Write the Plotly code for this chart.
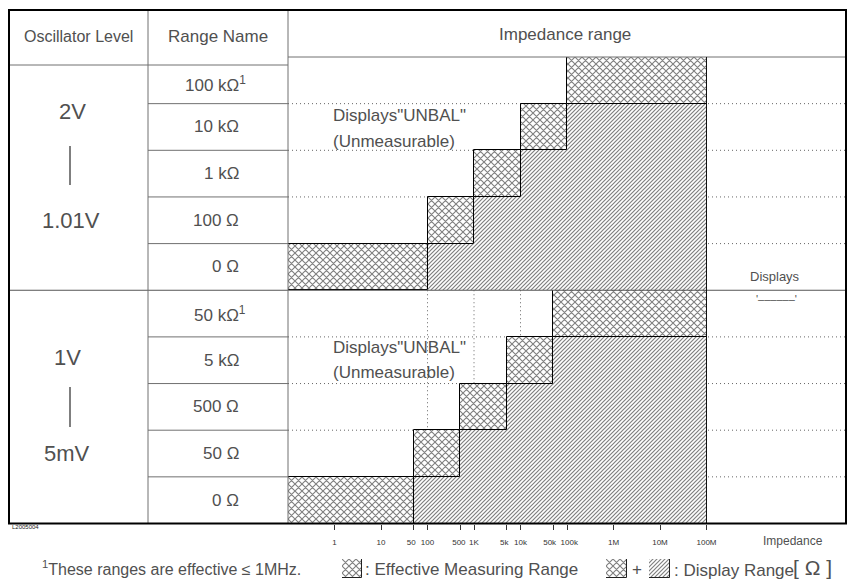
import math
import plotly.graph_objects as go

# ---------------- data ----------------
LEVELS_HIGH = ["2V", "1.01V"]
LEVELS_LOW = ["1V", "5mV"]
RANGES_HIGH = ["100 kΩ", "10 kΩ", "1 kΩ", "100 Ω", "0 Ω"]
RANGES_LOW = ["50 kΩ", "5 kΩ", "500 Ω", "50 Ω", "0 Ω"]
FOOTNOTED = ["100 kΩ", "50 kΩ"]
AXIS_MIN, AXIS_MAX = 0.1, 1e11
DISPLAY_MAX = 1e8
EFF_START_HIGH = [1e5, 1e4, 1e3, 1e2, AXIS_MIN]
EFF_END_HIGH = [1e8, 1e5, 1e4, 1e3, 1e2]
EFF_START_LOW = [5e4, 5e3, 500, 50, AXIS_MIN]
EFF_END_LOW = [1e8, 5e4, 5e3, 500, 50]
TICK_VALS = [1, 10, 50, 100, 500, 1e3, 5e3, 1e4, 5e4, 1e5, 1e6, 1e7, 1e8]
NB = "\u00a0"
TICK_TEXT = ["1", "10", "50" + NB * 2, "100", "500" + NB, "1K", "5k" + NB * 2, "10k",
             "50k" + NB * 3, NB * 2 + "100k", "1M", "10M", "100M"]
LEGEND_SWATCHES = ["x", "x", "/"]

# ---------------- layout constants (page pixels) ----------------
OFF = 8                      # default page body margin
W, H = 856 - OFF, 580 - OFF  # figure size
L, R, T, B = 9, 846, 10, 523.5
PLOT_TOP = 57
COL1, COL2 = 148, 288
HEADER_LEFT_BOTTOM = 65
FONT = "Liberation Sans"
TXT = "#505050"
GRID = "#707070"


def fx(p):
    return (p - OFF) / W


def fy(p):
    return 1 - (p - OFF) / H


ranges = RANGES_HIGH + RANGES_LOW
eff_start = EFF_START_HIGH + EFF_START_LOW
eff_end = EFF_END_HIGH + EFF_END_LOW
rows = list(range(len(ranges)))
n_high = len(RANGES_HIGH)

CROSS = dict(shape="x", size=7 / math.sqrt(2), solidity=0.4, fgcolor="#000", bgcolor="white")
HATCH = dict(shape="/", size=4 / math.sqrt(2), solidity=0.42, fgcolor="#000", bgcolor="white")

fig = go.Figure()

# effective measuring range (cross hatched)
fig.add_trace(go.Bar(
    orientation="h", y=rows, base=eff_start,
    x=[e - s for s, e in zip(eff_start, eff_end)], width=1,
    marker=dict(color="white", line=dict(color="black", width=1), pattern=CROSS),
    showlegend=False, hoverinfo="skip"))

# display-only range (hatched)
disp_rows = [r for r in rows if eff_end[r] < DISPLAY_MAX]
fig.add_trace(go.Bar(
    orientation="h", y=disp_rows, base=[eff_end[r] for r in disp_rows],
    x=[DISPLAY_MAX - eff_end[r] for r in disp_rows], width=1,
    marker=dict(color="white", line=dict(color="black", width=0), pattern=HATCH),
    showlegend=False, hoverinfo="skip"))

# legend swatches on tiny axes
sw_pos = [(342, 362), (606, 627), (649, 670)]
for i, (shape, (a, b)) in enumerate(zip(LEGEND_SWATCHES, sw_pos), start=2):
    pat = CROSS if shape == "x" else HATCH
    fig.add_trace(go.Bar(
        orientation="h", y=[0], x=[1], base=[0], width=1,
        xaxis=f"x{i}", yaxis=f"y{i}",
        marker=dict(color="white", line=dict(color="#222", width=1), pattern=pat),
        showlegend=False, hoverinfo="skip"))
    fig.update_layout(**{
        f"xaxis{i}": dict(domain=[fx(a), fx(b)], range=[0, 1], visible=False, anchor=f"y{i}", fixedrange=True),
        f"yaxis{i}": dict(domain=[fy(578), fy(559)], range=[-0.5, 0.5], visible=False, anchor=f"x{i}", fixedrange=True),
    })

fig.update_layout(
    width=W, height=H, margin=dict(l=0, r=0, t=0, b=0),
    paper_bgcolor="white", plot_bgcolor="white",
    barmode="overlay", bargap=0,
    xaxis=dict(type="log", range=[math.log10(AXIS_MIN), math.log10(AXIS_MAX)],
               domain=[fx(COL2), fx(R)], showgrid=False, zeroline=False, showline=False,
               tickvals=TICK_VALS, ticktext=TICK_TEXT, ticks="outside", ticklen=5,
               tickcolor="#333", tickwidth=1, ticklabelstandoff=6, tickangle=0,
               tickfont=dict(family=FONT, size=8, color="#333"), fixedrange=True),
    yaxis=dict(range=[len(ranges) - 0.5, -0.5], domain=[fy(B), fy(PLOT_TOP)],
               visible=False, fixedrange=True),
    showlegend=False,
)

shapes = []


def line(x0, y0, x1, y1, color=GRID, width=1, dash="solid", layer="above", xref="paper", yref="paper"):
    shapes.append(dict(type="line", x0=x0, y0=y0, x1=x1, y1=y1, xref=xref, yref=yref, layer=layer,
                       line=dict(color=color, width=width, dash=dash)))


# dotted row boundaries in the impedance area (under the bars)
for r in rows[:-1]:
    if r == n_high - 1:
        continue
    line(fx(COL2), r + 0.5, fx(R), r + 0.5, color="#666", dash="1px,3px", layer="below", yref="y")
# dotted verticals in the lower section at the upper section's range edges
for v in EFF_START_HIGH[:-1]:
    line(v, n_high - 0.5, v, len(ranges) - 0.5, color="#666",
         dash="1px,3px", layer="below", xref="x", yref="y")

# range name column separators
for r in rows[:-1]:
    if r == n_high - 1:
        continue
    line(fx(COL1), r + 0.5, fx(COL2), r + 0.5, yref="y")
# section divider across full width
line(fx(L), n_high - 0.5, fx(R), n_high - 0.5, yref="y", color="#555")
# header lines
line(fx(L), fy(HEADER_LEFT_BOTTOM), fx(COL2), fy(HEADER_LEFT_BOTTOM))
line(fx(COL2), fy(PLOT_TOP), fx(R), fy(PLOT_TOP))
# column lines
line(fx(COL1), fy(T), fx(COL1), fy(B))
line(fx(COL2), fy(T), fx(COL2), fy(B))
# right edge of display range
line(DISPLAY_MAX, -0.5, DISPLAY_MAX, len(ranges) - 0.5, color="#111", xref="x", yref="y")
# outer frame
shapes.append(dict(type="rect", xref="paper", yref="paper", x0=fx(L), x1=fx(R), y0=fy(B), y1=fy(T),
                   line=dict(color="black", width=2), layer="above"))
# level range bars
line(fx(70), fy(146), fx(70), fy(185), color="#555", width=1.5)
line(fx(70), fy(387), fx(70), fy(427), color="#555", width=1.5)
fig.update_layout(shapes=shapes)


def note(text, x, y, size, xanchor="center", color=TXT, yref="paper"):
    fig.add_annotation(text=text, x=x, y=y, xref="paper", yref=yref, showarrow=False,
                       xanchor=xanchor, yanchor="middle",
                       font=dict(family=FONT, size=size, color=color))


# headers
note("Oscillator Level", fx((L + COL1) / 2), fy(36), 16)
note("Range Name", fx((COL1 + COL2) / 2), fy(36), 17)
note("Impedance range", fx((COL2 + R) / 2 - 2), fy(35), 17)

# oscillator levels
note(LEVELS_HIGH[0], fx(72), fy(111), 22)
note(LEVELS_HIGH[1], fx(71), fy(220), 22)
note(LEVELS_LOW[0], fx(67), fy(357), 22)
note(LEVELS_LOW[1], fx(67), fy(453), 22)

# range names
for r, name in enumerate(ranges):
    txt = name + ("<sup>1</sup>" if name in FOOTNOTED else "")
    xr = 248 if name in FOOTNOTED else 241
    if r == 0:
        note(txt, fx(xr), fy((HEADER_LEFT_BOTTOM + 103.8) / 2), 17, xanchor="right")
    else:
        note(txt, fx(xr), r, 17, xanchor="right", yref="y")

# unmeasurable notes
for y1, y2 in [(116, 141), (347, 372)]:
    note('Displays"UNBAL"', fx(331), fy(y1), 17, xanchor="left")
    note("(Unmeasurable)", fx(331), fy(y2), 17, xanchor="left")

note("Displays", fx(775), fy(277), 13)
note("'––––––'", fx(776), fy(299), 11)

# bottom texts
note("L2005004", fx(10), fy(527), 6, xanchor="left", color="#222")
note("<sup>1</sup>These ranges are effective ≤ 1MHz.", fx(40), fy(568), 16, xanchor="left")
note(": Effective Measuring Range", fx(363), fy(569), 17, xanchor="left")
note("+", fx(637), fy(569), 17)
note(": Display Range", fx(672), fy(570), 17, xanchor="left")
note("Impedance", fx(793), fy(541), 12)
note("[ Ω ]", fx(812), fy(567), 21)

fig.write_html("out.html")
